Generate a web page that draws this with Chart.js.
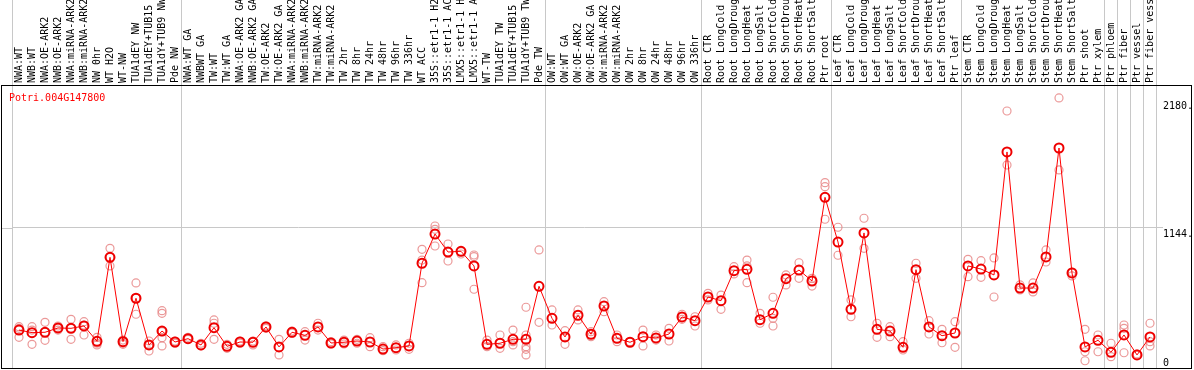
<!DOCTYPE html>
<html>
<head>
<meta charset="utf-8">
<script src="https://cdn.jsdelivr.net/npm/chart.js@4/dist/chart.umd.min.js"></script>
<style>
  html, body { margin: 0; padding: 0; background: #fff; }
</style>
</head>
<body>
<canvas id="exprChart" width="1194" height="370"></canvas>
<script>
const conditions = [
  'NWA:WT', 'NWB:WT', 'NWA:OE-ARK2', 'NWB:OE-ARK2', 'NWA:miRNA-ARK2', 'NWB:miRNA-ARK2', 'NW 0hr', 'WT H2O',
  'WT-NW', 'TUA1dEY NW', 'TUA1dEY+TUB15 NW', 'TUA1dY+TUB9 NW', 'Pde NW',
  'NWA:WT GA', 'NWBWT GA', 'TW:WT', 'TW:WT GA', 'NWA:OE-ARK2 GA', 'NWB:OE-ARK2 GA', 'TW:OE-ARK2', 'TW:OE-ARK2 GA',
  'NWA:miRNA-ARK2 GA', 'NWB:miRNA-ARK2 GA', 'TW:miRNA-ARK2', 'TW:miRNA-ARK2 GA', 'TW 2hr', 'TW 8hr', 'TW 24hr',
  'TW 48hr', 'TW 96hr', 'TW 336hr', 'WT ACC', '35S::etr1-1 H2O', '35S::etr1-1 ACC', 'LMX5::etr1-1 H2O',
  'LMX5::etr1-1 ACC', 'WT-TW', 'TUA1dEY TW', 'TUA1dEY+TUB15 TW', 'TUA1dY+TUB9 TW', 'Pde TW',
  'OW:WT', 'OW:WT GA', 'OW:OE-ARK2', 'OW:OE-ARK2 GA', 'OW:miRNA-ARK2', 'OW:miRNA-ARK2 GA', 'OW 2hr', 'OW 8hr',
  'OW 24hr', 'OW 48hr', 'OW 96hr', 'OW 336hr',
  'Root CTR', 'Root LongCold', 'Root LongDrought', 'Root LongHeat', 'Root LongSalt', 'Root ShortCold',
  'Root ShortDrought', 'Root ShortHeat', 'Root ShortSalt', 'Ptr root',
  'Leaf CTR', 'Leaf LongCold', 'Leaf LongDrought', 'Leaf LongHeat', 'Leaf LongSalt', 'Leaf ShortCold',
  'Leaf ShortDrought', 'Leaf ShortHeat', 'Leaf ShortSalt', 'Ptr leaf',
  'Stem CTR', 'Stem LongCold', 'Stem LongDrought', 'Stem LongHeat', 'Stem LongSalt', 'Stem ShortCold',
  'Stem ShortDrought', 'Stem ShortHeat', 'Stem ShortSalt', 'Ptr shoot',
  'Ptr xylem', 'Ptr phloem', 'Ptr fiber', 'Ptr vessel', 'Ptr fiber vessel'
];

// mean expression per condition
const means = [
  316, 295, 298, 333, 330, 349, 225, 906, 222, 574,
  195, 308, 219, 246, 195, 335, 184, 219, 217, 341,
  179, 298, 273, 341, 211, 217, 227, 219, 162, 173,
  187, 858, 1095, 949, 955, 836, 200, 209, 241, 241,
  671, 411, 260, 436, 282, 511, 249, 217, 262, 252,
  284, 422, 392, 584, 554, 798, 809, 400, 452, 733,
  803, 714, 1393, 1030, 484, 1104, 322, 308, 176, 806,
  341, 270, 292, 836, 811, 763, 1761, 657, 657, 909,
  1793, 779, 179, 233, 136, 276, 114, 260
];

// single replicates
const rep1 = [
  343, 343, 379, 349, 403, 384, 257, 979, 235, 698,
  227, 473, 227, 257, 209, 398, 200, 227, 227, 351,
  241, 308, 303, 371, 222, 235, 241, 254, 181, 195,
  209, 971, 1160, 1014, 952, 925, 235, 276, 316, 501,
  966, 479, 311, 479, 303, 546, 276, 222, 316, 276,
  330, 444, 424, 614, 600, 830, 884, 452, 582, 763,
  862, 736, 1512, 1150, 560, 1223, 371, 343, 222, 858,
  392, 322, 384, 890, 879, 901, 2093, 682, 698, 966,
  2199, 787, 322, 276, 209, 357, 122, 371
];
const rep2 = [
  330, 316, 298, 333, 330, 357, 209, 906, 209, 574,
  195, 452, 209, 241, 187, 371, 168, 209, 195, 330,
  114, 290, 235, 316, 203, 203, 209, 181, 149, 154,
  160, 884, 1133, 949, 933, 911, 181, 168, 222, 276,
  379, 357, 200, 398, 262, 465, 222, null, 187, 235,
  227, 403, 349, 560, 484, 771, 836, 371, 411, 682,
  736, 673, 1479, 923, 424, 979, 257, 262, 154, 736,
  284, 213, 176, 749, 744, 584, 1655, 641, 625, 868,
  1615, 755, 140, 140, 100, 330, null, 222
];
const rep3 = [
  257, 200, 233, 316, 241, 276, 195, 836, 200, 444,
  146, 303, null, null, null, 241, null, null, null, null,
  null, null, null, null, null, null, null, null, null, null,
  null, 700, 998, 876, null, 647, null, null, 195, 181,
  null, null, null, null, null, null, null, null, null, null,
  null, null, null, null, null, null, 700, null, 349, null,
  null, null, 1215, null, null, null, null, null, null, null,
  null, null, null, null, null, null, null, null, null, null,
  null, null, 67, null, null, 132, null, 187
];
const rep4 = conditions.map(() => null);
rep4[11] = 254; rep4[39] = 160;
const rep5 = conditions.map(() => null);
rep5[11] = 187; rep5[39] = 114;

const yTicks = [0, 1144, 2180];
const yTickText = { 0: ['0', ''], 1144: ['', '1144.'], 2180: ['', '2180.'] };
// group separators: gridline drawn before these category indexes
const groupBreaks = [0, 13, 41, 53, 63, 73, 84, 85, 86, 87];

const GRID = '#c8c8c8';
const MONO = 'DejaVu Sans Mono';

const framePlugin = {
  id: 'frame',
  afterDraw(chart) {
    const ctx = chart.ctx;
    const area = chart.chartArea;
    const gy = Math.round(chart.scales.y.getPixelForValue(1144)) + 0.5;
    ctx.save();
    ctx.strokeStyle = GRID;
    ctx.lineWidth = 1;
    ctx.beginPath();
    ctx.moveTo(1, gy);
    ctx.lineTo(area.left, gy);
    ctx.stroke();
    ctx.strokeStyle = '#000';
    ctx.strokeRect(1.5, 85.5, 1190, 283);
    ctx.fillStyle = '#ff0000';
    ctx.font = '10px "' + MONO + '"';
    ctx.fillText('Potri.004G147800', 9, 101);
    ctx.restore();
  }
};

function repSet(data) {
  return {
    data: data,
    showLine: false,
    pointRadius: 4,
    pointBorderWidth: 1.2,
    pointBorderColor: 'rgba(232,135,135,0.85)',
    pointBackgroundColor: 'rgba(0,0,0,0)',
    pointHoverRadius: 4
  };
}

new Chart(document.getElementById('exprChart'), {
  type: 'line',
  data: {
    labels: conditions,
    datasets: [{
      data: means,
      borderColor: '#ff0000',
      borderWidth: 1,
      pointRadius: 4.5,
      pointBorderWidth: 2,
      pointBorderColor: '#ee0000',
      pointBackgroundColor: 'rgba(0,0,0,0)',
      tension: 0
    },
    repSet(rep1), repSet(rep2), repSet(rep3), repSet(rep4), repSet(rep5)]
  },
  options: {
    responsive: false,
    animation: false,
    devicePixelRatio: 1,
    layout: { autoPadding: false, padding: { left: 12.5, right: 3, top: 0, bottom: 1 } },
    plugins: { legend: { display: false }, tooltip: { enabled: false } },
    scales: {
      x: {
        position: 'top',
        offset: true,
        border: { display: false },
        grid: {
          offset: true,
          tickLength: 85,
          color: c => (c.type !== 'tick' || groupBreaks.includes(c.index)) ? GRID : 'rgba(0,0,0,0)'
        },
        ticks: {
          autoSkip: false,
          minRotation: 90,
          maxRotation: 90,
          padding: -83,
          labelOffset: 12,
          color: '#000',
          font: { family: MONO, size: 10 }
        },
        afterFit: s => {
          s.height = 85;
          s.paddingLeft = 0;
          s.paddingRight = 0;
        }
      },
      y: {
        position: 'right',
        min: 0,
        max: 2304,
        border: { display: false },
        afterBuildTicks: s => { s.ticks = yTicks.map(v => ({ value: v })); },
        grid: {
          tickLength: 6.5,
          color: c => (c.tick && c.tick.value === 1144) ? GRID : 'rgba(0,0,0,0)'
        },
        ticks: {
          padding: 0,
          color: '#000',
          font: { family: MONO, size: 10 },
          callback: v => yTickText[v]
        },
        afterFit: s => {
          s.width = 34.5;
          s.paddingTop = 0;
          s.paddingBottom = 0;
        }
      }
    }
  },
  plugins: [framePlugin]
});
</script>
</body>
</html>
